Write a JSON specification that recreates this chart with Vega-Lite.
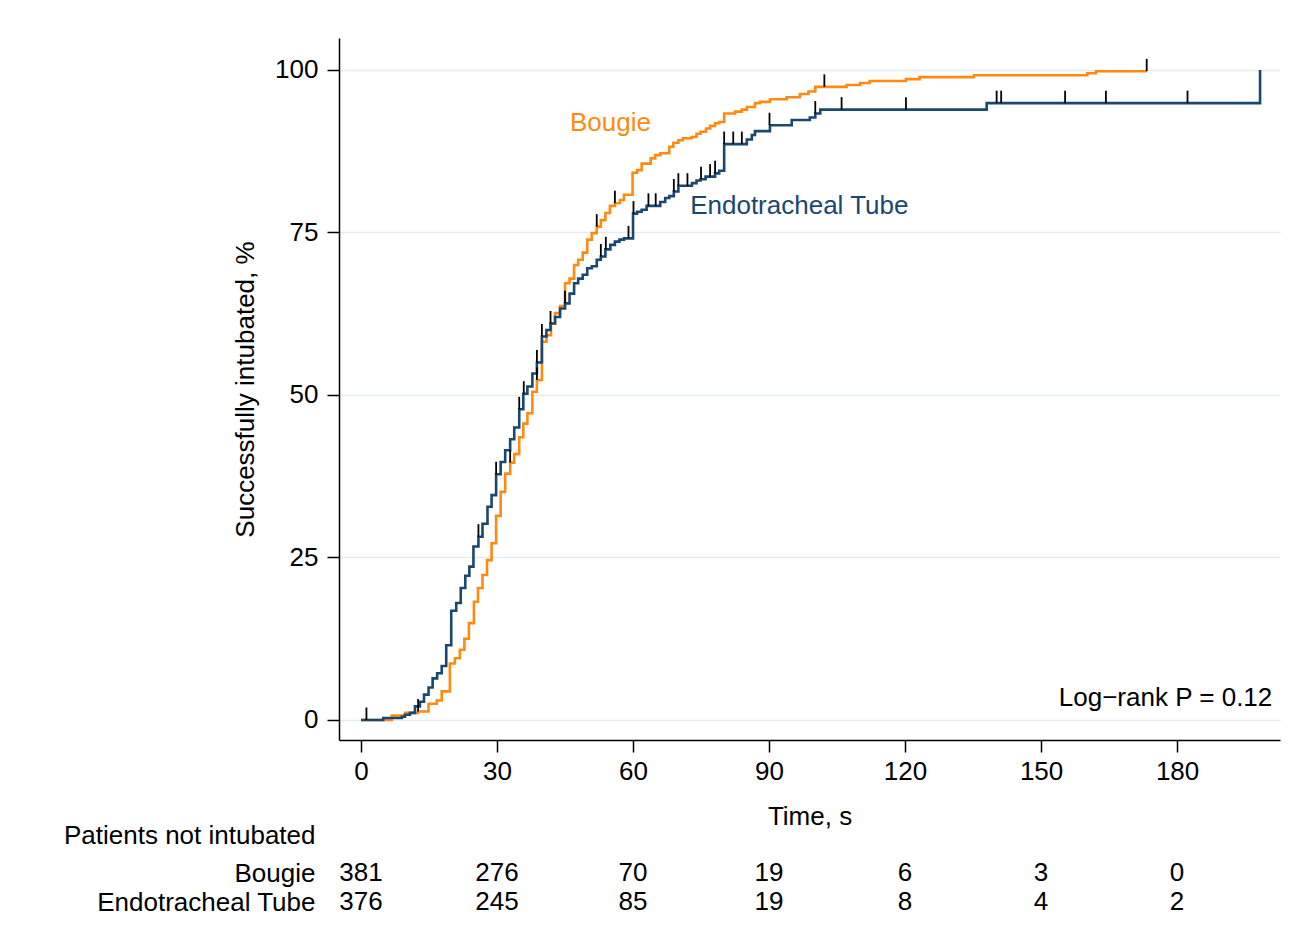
{
  "$schema": "https://vega.github.io/schema/vega-lite/v6.json",
  "width": 941,
  "height": 702,
  "autosize": {"type": "none"},
  "padding": {"left": 339, "top": 38, "right": 36, "bottom": 212},
  "background": "white",
  "config": {"view": {"stroke": null}, "font": "Liberation Sans"},
  "datasets": {
    "km": [
      {"group":"Bougie","t":0,"pct":0},{"group":"Bougie","t":6.8,"pct":0.7},{"group":"Bougie","t":9.7,"pct":1.1},{"group":"Bougie","t":12.6,"pct":1.3},{"group":"Bougie","t":14.9,"pct":2.5},{"group":"Bougie","t":16.7,"pct":3.0},{"group":"Bougie","t":17.8,"pct":4.4},{"group":"Bougie","t":19.6,"pct":8.7},{"group":"Bougie","t":20.7,"pct":9.5},{"group":"Bougie","t":21.8,"pct":10.8},{"group":"Bougie","t":22.8,"pct":12.5},{"group":"Bougie","t":23.8,"pct":14.9},{"group":"Bougie","t":24.9,"pct":18.2},{"group":"Bougie","t":25.8,"pct":20.3},{"group":"Bougie","t":26.8,"pct":22.3},{"group":"Bougie","t":27.8,"pct":24.6},{"group":"Bougie","t":28.8,"pct":27.2},{"group":"Bougie","t":29.8,"pct":31.4},{"group":"Bougie","t":30.8,"pct":35.1},{"group":"Bougie","t":31.8,"pct":37.9},{"group":"Bougie","t":32.9,"pct":39.6},{"group":"Bougie","t":33.8,"pct":40.9},{"group":"Bougie","t":34.9,"pct":43.5},{"group":"Bougie","t":35.8,"pct":45.6},{"group":"Bougie","t":36.7,"pct":47.2},{"group":"Bougie","t":37.8,"pct":50.5},{"group":"Bougie","t":38.8,"pct":52.3},{"group":"Bougie","t":39.9,"pct":58.2},{"group":"Bougie","t":40.9,"pct":59.2},{"group":"Bougie","t":41.9,"pct":61.0},{"group":"Bougie","t":42.8,"pct":62.6},{"group":"Bougie","t":43.9,"pct":63.7},{"group":"Bougie","t":45.0,"pct":67.2},{"group":"Bougie","t":46.0,"pct":67.9},{"group":"Bougie","t":47.0,"pct":70.0},{"group":"Bougie","t":47.9,"pct":70.8},{"group":"Bougie","t":48.9,"pct":71.9},{"group":"Bougie","t":49.9,"pct":73.9},{"group":"Bougie","t":50.9,"pct":74.9},{"group":"Bougie","t":52.0,"pct":75.9},{"group":"Bougie","t":52.9,"pct":76.9},{"group":"Bougie","t":53.9,"pct":78.0},{"group":"Bougie","t":54.9,"pct":79.1},{"group":"Bougie","t":56.0,"pct":79.5},{"group":"Bougie","t":57.1,"pct":80.0},{"group":"Bougie","t":58.0,"pct":80.8},{"group":"Bougie","t":59.9,"pct":84.2},{"group":"Bougie","t":60.9,"pct":84.6},{"group":"Bougie","t":61.9,"pct":85.6},{"group":"Bougie","t":63.9,"pct":86.4},{"group":"Bougie","t":64.9,"pct":86.9},{"group":"Bougie","t":66.0,"pct":87.2},{"group":"Bougie","t":68.0,"pct":88.2},{"group":"Bougie","t":68.9,"pct":88.8},{"group":"Bougie","t":70.0,"pct":89.2},{"group":"Bougie","t":71.0,"pct":89.5},{"group":"Bougie","t":72.9,"pct":89.7},{"group":"Bougie","t":74.0,"pct":90.2},{"group":"Bougie","t":74.9,"pct":90.5},{"group":"Bougie","t":76.1,"pct":91.0},{"group":"Bougie","t":77.0,"pct":91.4},{"group":"Bougie","t":78.1,"pct":91.8},{"group":"Bougie","t":79.0,"pct":92.0},{"group":"Bougie","t":80.1,"pct":93.3},{"group":"Bougie","t":82.5,"pct":93.6},{"group":"Bougie","t":84.0,"pct":93.9},{"group":"Bougie","t":85.1,"pct":94.3},{"group":"Bougie","t":86.9,"pct":94.9},{"group":"Bougie","t":88.0,"pct":95.1},{"group":"Bougie","t":90.2,"pct":95.5},{"group":"Bougie","t":93.9,"pct":95.8},{"group":"Bougie","t":96.8,"pct":96.3},{"group":"Bougie","t":98.7,"pct":96.7},{"group":"Bougie","t":100.2,"pct":97.4},{"group":"Bougie","t":107.1,"pct":97.7},{"group":"Bougie","t":110.1,"pct":98.0},{"group":"Bougie","t":112.2,"pct":98.3},{"group":"Bougie","t":120.2,"pct":98.6},{"group":"Bougie","t":123.2,"pct":98.9},{"group":"Bougie","t":135.2,"pct":99.2},{"group":"Bougie","t":160.2,"pct":99.5},{"group":"Bougie","t":162.1,"pct":99.8},{"group":"Bougie","t":173.3,"pct":99.8},
      {"group":"Endotracheal Tube","t":0,"pct":0},{"group":"Endotracheal Tube","t":4.9,"pct":0.3},{"group":"Endotracheal Tube","t":9.0,"pct":0.5},{"group":"Endotracheal Tube","t":9.7,"pct":0.8},{"group":"Endotracheal Tube","t":10.8,"pct":1.1},{"group":"Endotracheal Tube","t":11.9,"pct":2.1},{"group":"Endotracheal Tube","t":13.0,"pct":2.8},{"group":"Endotracheal Tube","t":13.9,"pct":3.9},{"group":"Endotracheal Tube","t":14.9,"pct":5.0},{"group":"Endotracheal Tube","t":15.8,"pct":6.4},{"group":"Endotracheal Tube","t":16.8,"pct":7.2},{"group":"Endotracheal Tube","t":17.8,"pct":8.3},{"group":"Endotracheal Tube","t":18.8,"pct":11.5},{"group":"Endotracheal Tube","t":19.9,"pct":16.8},{"group":"Endotracheal Tube","t":21.0,"pct":18.0},{"group":"Endotracheal Tube","t":22.0,"pct":20.3},{"group":"Endotracheal Tube","t":23.0,"pct":22.2},{"group":"Endotracheal Tube","t":23.9,"pct":23.6},{"group":"Endotracheal Tube","t":24.8,"pct":26.7},{"group":"Endotracheal Tube","t":25.9,"pct":28.2},{"group":"Endotracheal Tube","t":26.8,"pct":30.2},{"group":"Endotracheal Tube","t":27.9,"pct":32.8},{"group":"Endotracheal Tube","t":28.8,"pct":34.6},{"group":"Endotracheal Tube","t":29.8,"pct":37.8},{"group":"Endotracheal Tube","t":30.8,"pct":39.7},{"group":"Endotracheal Tube","t":31.8,"pct":41.5},{"group":"Endotracheal Tube","t":32.9,"pct":43.2},{"group":"Endotracheal Tube","t":33.8,"pct":45.0},{"group":"Endotracheal Tube","t":34.9,"pct":47.8},{"group":"Endotracheal Tube","t":35.8,"pct":50.2},{"group":"Endotracheal Tube","t":36.7,"pct":51.3},{"group":"Endotracheal Tube","t":37.8,"pct":53.3},{"group":"Endotracheal Tube","t":38.8,"pct":55.0},{"group":"Endotracheal Tube","t":39.9,"pct":59.0},{"group":"Endotracheal Tube","t":40.9,"pct":60.0},{"group":"Endotracheal Tube","t":41.8,"pct":61.0},{"group":"Endotracheal Tube","t":42.8,"pct":62.0},{"group":"Endotracheal Tube","t":43.9,"pct":63.3},{"group":"Endotracheal Tube","t":45.0,"pct":64.1},{"group":"Endotracheal Tube","t":46.0,"pct":65.6},{"group":"Endotracheal Tube","t":47.0,"pct":67.2},{"group":"Endotracheal Tube","t":47.9,"pct":67.9},{"group":"Endotracheal Tube","t":48.9,"pct":68.5},{"group":"Endotracheal Tube","t":49.9,"pct":69.5},{"group":"Endotracheal Tube","t":50.9,"pct":69.8},{"group":"Endotracheal Tube","t":52.0,"pct":70.8},{"group":"Endotracheal Tube","t":52.9,"pct":71.3},{"group":"Endotracheal Tube","t":53.9,"pct":72.4},{"group":"Endotracheal Tube","t":55.0,"pct":73.1},{"group":"Endotracheal Tube","t":56.0,"pct":73.6},{"group":"Endotracheal Tube","t":57.0,"pct":73.9},{"group":"Endotracheal Tube","t":58.0,"pct":74.1},{"group":"Endotracheal Tube","t":60.0,"pct":77.9},{"group":"Endotracheal Tube","t":60.9,"pct":78.2},{"group":"Endotracheal Tube","t":61.9,"pct":78.5},{"group":"Endotracheal Tube","t":63.0,"pct":79.1},{"group":"Endotracheal Tube","t":66.0,"pct":79.7},{"group":"Endotracheal Tube","t":67.1,"pct":80.3},{"group":"Endotracheal Tube","t":68.0,"pct":80.6},{"group":"Endotracheal Tube","t":69.0,"pct":81.3},{"group":"Endotracheal Tube","t":70.0,"pct":82.2},{"group":"Endotracheal Tube","t":73.0,"pct":82.6},{"group":"Endotracheal Tube","t":74.0,"pct":83.0},{"group":"Endotracheal Tube","t":74.9,"pct":83.2},{"group":"Endotracheal Tube","t":76.0,"pct":83.6},{"group":"Endotracheal Tube","t":78.1,"pct":84.1},{"group":"Endotracheal Tube","t":79.0,"pct":84.5},{"group":"Endotracheal Tube","t":80.1,"pct":88.6},{"group":"Endotracheal Tube","t":85.1,"pct":89.3},{"group":"Endotracheal Tube","t":86.2,"pct":90.0},{"group":"Endotracheal Tube","t":86.9,"pct":90.6},{"group":"Endotracheal Tube","t":90.2,"pct":91.5},{"group":"Endotracheal Tube","t":95.0,"pct":92.3},{"group":"Endotracheal Tube","t":99.0,"pct":92.7},{"group":"Endotracheal Tube","t":100.2,"pct":93.3},{"group":"Endotracheal Tube","t":101.3,"pct":93.9},{"group":"Endotracheal Tube","t":138.0,"pct":94.9},{"group":"Endotracheal Tube","t":198.3,"pct":100}
    ],
    "censor": [
      {"group":"Bougie","t":12.6,"pct":1.3},{"group":"Bougie","t":32.9,"pct":39.6},{"group":"Bougie","t":38.8,"pct":52.3},{"group":"Bougie","t":52.0,"pct":75.9},{"group":"Bougie","t":56.0,"pct":79.5},{"group":"Bougie","t":102.2,"pct":97.4},{"group":"Bougie","t":173.3,"pct":99.8},
      {"group":"Endotracheal Tube","t":1.2,"pct":0},{"group":"Endotracheal Tube","t":25.9,"pct":28.2},{"group":"Endotracheal Tube","t":29.8,"pct":37.8},{"group":"Endotracheal Tube","t":34.9,"pct":47.8},{"group":"Endotracheal Tube","t":35.9,"pct":50.2},{"group":"Endotracheal Tube","t":38.8,"pct":55.0},{"group":"Endotracheal Tube","t":39.9,"pct":59.0},{"group":"Endotracheal Tube","t":41.8,"pct":61.0},{"group":"Endotracheal Tube","t":45.0,"pct":64.1},{"group":"Endotracheal Tube","t":52.9,"pct":71.3},{"group":"Endotracheal Tube","t":54.0,"pct":72.4},{"group":"Endotracheal Tube","t":59.0,"pct":74.1},{"group":"Endotracheal Tube","t":60.1,"pct":77.9},{"group":"Endotracheal Tube","t":63.4,"pct":79.1},{"group":"Endotracheal Tube","t":65.0,"pct":79.1},{"group":"Endotracheal Tube","t":69.0,"pct":81.3},{"group":"Endotracheal Tube","t":70.0,"pct":82.2},{"group":"Endotracheal Tube","t":72.0,"pct":82.2},{"group":"Endotracheal Tube","t":75.0,"pct":83.2},{"group":"Endotracheal Tube","t":77.0,"pct":83.6},{"group":"Endotracheal Tube","t":78.1,"pct":84.1},{"group":"Endotracheal Tube","t":80.1,"pct":88.6},{"group":"Endotracheal Tube","t":82.1,"pct":88.6},{"group":"Endotracheal Tube","t":84.0,"pct":88.6},{"group":"Endotracheal Tube","t":90.1,"pct":91.5},{"group":"Endotracheal Tube","t":100.2,"pct":93.3},{"group":"Endotracheal Tube","t":106.0,"pct":93.9},{"group":"Endotracheal Tube","t":120.2,"pct":93.9},{"group":"Endotracheal Tube","t":140.2,"pct":94.9},{"group":"Endotracheal Tube","t":141.2,"pct":94.9},{"group":"Endotracheal Tube","t":155.3,"pct":94.9},{"group":"Endotracheal Tube","t":164.3,"pct":94.9},{"group":"Endotracheal Tube","t":182.3,"pct":94.9}
    ],
    "risk": [
      {"group":"Bougie","t":0,"n":"381"},{"group":"Bougie","t":30,"n":"276"},{"group":"Bougie","t":60,"n":"70"},{"group":"Bougie","t":90,"n":"19"},{"group":"Bougie","t":120,"n":"6"},{"group":"Bougie","t":150,"n":"3"},{"group":"Bougie","t":180,"n":"0"},
      {"group":"Endotracheal Tube","t":0,"n":"376"},{"group":"Endotracheal Tube","t":30,"n":"245"},{"group":"Endotracheal Tube","t":60,"n":"85"},{"group":"Endotracheal Tube","t":90,"n":"19"},{"group":"Endotracheal Tube","t":120,"n":"8"},{"group":"Endotracheal Tube","t":150,"n":"4"},{"group":"Endotracheal Tube","t":180,"n":"2"}
    ]
  },
  "layer": [
    {
      "layer": [
        {
          "data": {"name": "km"},
          "mark": {"type": "line", "interpolate": "step-after", "strokeWidth": 2.6, "clip": true},
          "encoding": {
            "x": {"field": "t", "type": "quantitative", "title": "Time, s",
              "scale": {"domain": [-4.853, 202.7], "nice": false, "zero": false},
              "axis": {"values": [0, 30, 60, 90, 120, 150, 180], "grid": false, "tickSize": 12, "tickColor": "black", "tickWidth": 1.5, "domainColor": "black", "domainWidth": 1.5, "labelFontSize": 26, "labelColor": "black", "labelPadding": 6, "titleFontSize": 26, "titleFontWeight": "normal", "titleColor": "black", "titlePadding": 19, "labelFont": "Liberation Sans", "titleFont": "Liberation Sans"}},
            "y": {"field": "pct", "type": "quantitative", "title": "Successfully intubated, %",
              "scale": {"domain": [-3.08, 104.92], "nice": false, "zero": false},
              "axis": {"values": [0, 25, 50, 75, 100], "grid": true, "gridColor": "#e4eef0", "gridWidth": 1.6, "tickSize": 12, "tickColor": "black", "tickWidth": 1.5, "domainColor": "black", "domainWidth": 1.5, "labelFontSize": 26, "labelColor": "black", "labelPadding": 9, "titleFontSize": 26, "titleFontWeight": "normal", "titleColor": "black", "titlePadding": 16, "titleLimit": 600, "labelFont": "Liberation Sans", "titleFont": "Liberation Sans"}},
            "color": {"field": "group", "type": "nominal", "scale": {"domain": ["Bougie", "Endotracheal Tube"], "range": ["#ff8a12", "#1a476f"]}, "legend": null}
          }
        },
        {
          "data": {"name": "censor"},
          "mark": {"type": "point", "shape": "M0,0L0,-2", "size": 156, "filled": false, "strokeWidth": 1.8, "color": "black", "opacity": 1},
          "encoding": {
            "x": {"field": "t", "type": "quantitative", "title": "Time, s"},
            "y": {"field": "pct", "type": "quantitative", "title": "Successfully intubated, %"}
          }
        },
        {
          "data": {"values": [{"label": "Bougie"}]},
          "mark": {"type": "text", "align": "left", "baseline": "middle", "fontSize": 26, "color": "#ff8a12", "font": "Liberation Sans"},
          "encoding": {"x": {"datum": 46.1}, "y": {"datum": 91.8}, "text": {"field": "label"}}
        },
        {
          "data": {"values": [{"label": "Endotracheal Tube"}]},
          "mark": {"type": "text", "align": "left", "baseline": "middle", "fontSize": 26, "color": "#1a476f", "font": "Liberation Sans"},
          "encoding": {"x": {"datum": 72.6}, "y": {"datum": 79.0}, "text": {"field": "label"}}
        },
        {
          "data": {"values": [{"label": "Log−rank P = 0.12"}]},
          "mark": {"type": "text", "align": "right", "baseline": "middle", "fontSize": 26, "color": "black", "font": "Liberation Sans"},
          "encoding": {"x": {"datum": 201.0}, "y": {"datum": 3.4}, "text": {"field": "label"}}
        }
      ]
    },
    {
      "data": {"name": "risk"},
      "mark": {"type": "text", "fontSize": 26, "font": "Liberation Sans", "baseline": "middle", "align": "center", "color": "black"},
      "encoding": {
        "x": {"field": "t", "type": "quantitative", "title": "Time, s"},
        "y": {"field": "group", "type": "ordinal",
          "scale": {"type": "point", "domain": ["Bougie", "Endotracheal Tube"], "range": [835, 864], "padding": 0},
          "axis": {"orient": "left", "domain": false, "ticks": false, "tickSize": 0, "grid": false, "labelFontSize": 26, "labelColor": "black", "labelPadding": 24, "labelLimit": 500, "labelFont": "Liberation Sans", "title": "Patients not intubated", "titleAngle": 0, "titleAlign": "right", "titleBaseline": "middle", "titleX": -24, "titleY": 797, "titleFontSize": 26, "titleFontWeight": "normal", "titleColor": "black", "titleLimit": 600, "titleFont": "Liberation Sans"}},
        "text": {"field": "n", "type": "nominal"}
      }
    }
  ],
  "resolve": {"scale": {"y": "independent"}, "axis": {"y": "independent"}}
}
